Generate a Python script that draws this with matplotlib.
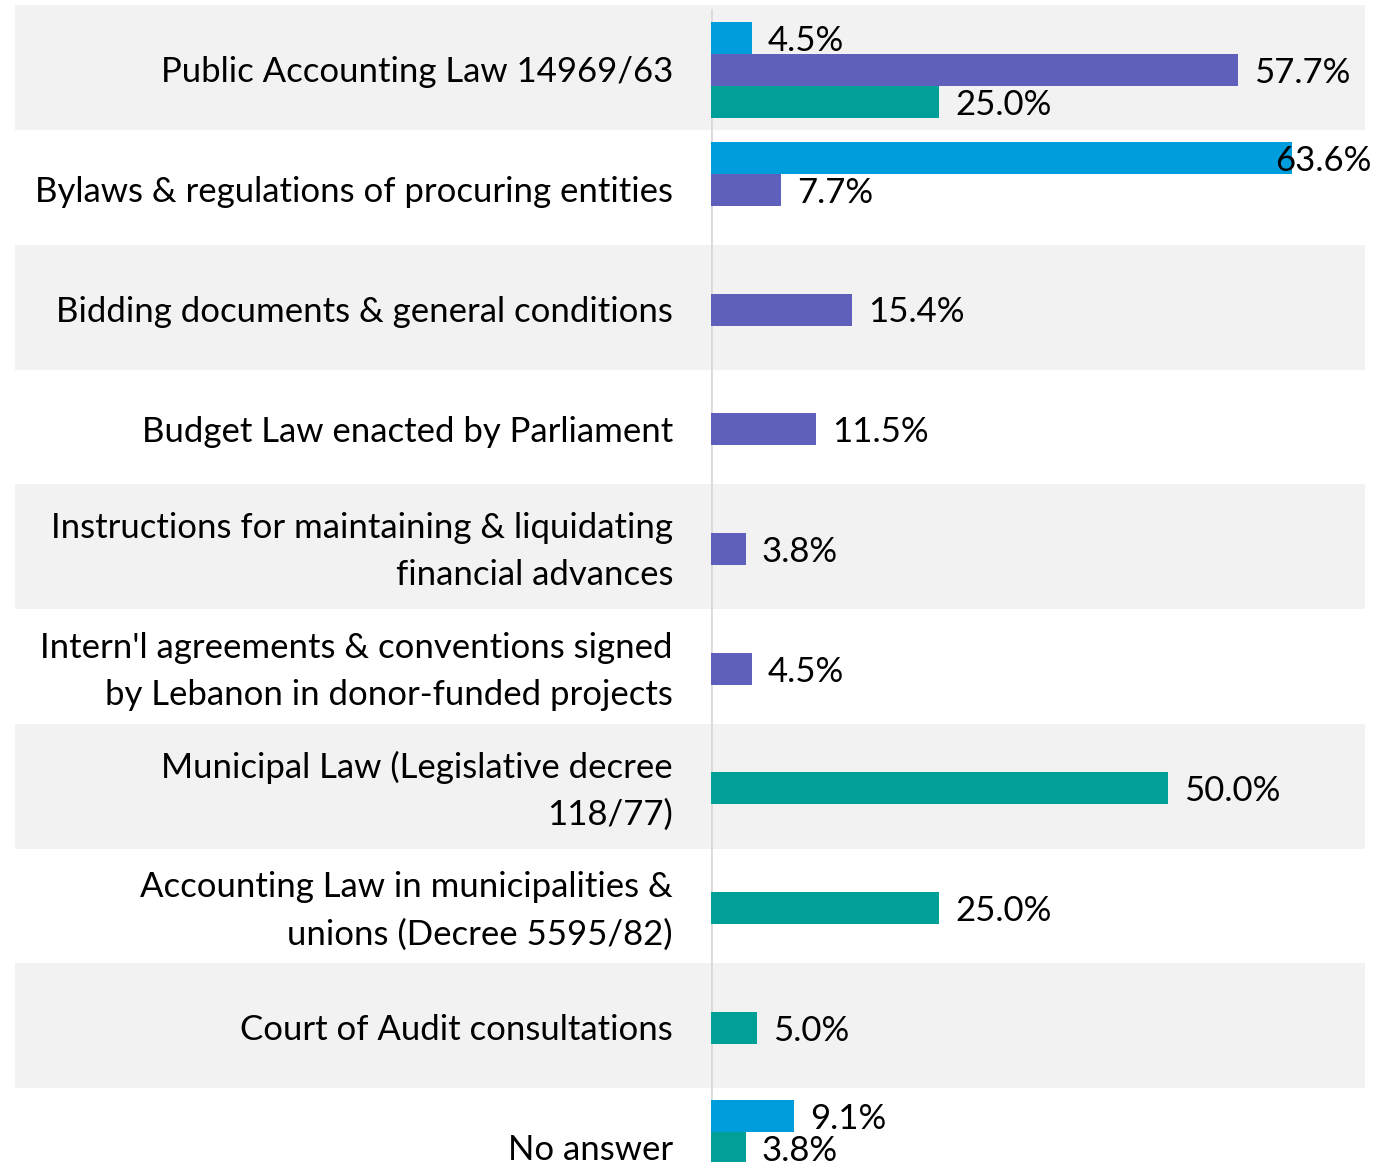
import matplotlib
matplotlib.use('Agg')
import matplotlib.pyplot as plt
from matplotlib.patches import Rectangle
from matplotlib.transforms import blended_transform_factory

plt.rcParams['font.family'] = ['Lato', 'DejaVu Sans']

# categories (top to bottom)
labels = ["Public Accounting Law 14969/63",
          "Bylaws & regulations of procuring entities",
          "Bidding documents & general conditions",
          "Budget Law enacted by Parliament",
          "Instructions for maintaining & liquidating\nfinancial advances",
          "Intern'l agreements & conventions signed\nby Lebanon in donor-funded projects",
          "Municipal Law (Legislative decree\n118/77)",
          "Accounting Law in municipalities &\nunions (Decree 5595/82)",
          "Court of Audit consultations",
          "No answer"]

# percentages, None = no bar
public_inst = [4.5, 63.6, None, None, None, None, None, None, None, 9.1]
central_adm = [57.7, 7.7, 15.4, 11.5, 3.8, 4.5, None, None, None, None]
municipal = [25.0, None, None, None, None, None, 50.0, 25.0, 5.0, 3.8]

series = [public_inst, central_adm, municipal]
colors = ['#009ddc', '#5f60bb', '#00a098']

W, H = 1383, 1162
fig = plt.figure(figsize=(W / 100, H / 100), dpi=100)
x0, x1 = 711, 1365
ax = fig.add_axes([x0 / W, 0, (x1 - x0) / W, 1])
px_per_unit = 9.134
xmax = (x1 - x0) / px_per_unit
row_px = 119.75
ax.set_xlim(0, xmax)
ax.set_ylim((H - 70) / row_px, -70 / row_px)
ax.axis('off')

# alternating background bands, across the whole figure width
trans = blended_transform_factory(fig.transFigure, ax.transData)
band_h = 125 / row_px
for i in range(0, len(labels), 2):
    ax.add_patch(Rectangle((15 / W, i - band_h / 2 - 0.02), (x1 - 15) / W, band_h,
                           transform=trans, facecolor='#f2f2f2', edgecolor='none',
                           clip_on=False, zorder=0))

ax.axvline(0, ymin=0, ymax=1 - 10 / H, color='#d9d9d9', lw=2, zorder=1)

fs = 25
bar_h = 32 / row_px
gap = 16 / px_per_unit
dy = 3 / row_px
for i in range(len(labels)):
    present = [k for k in range(3) if series[k][i] is not None]
    if len(present) == 1:
        offsets = [0]
    else:
        offsets = [-1 + j for j in range(len(present))]
    for k, off in zip(present, offsets):
        v = series[k][i]
        y = i + off * bar_h
        ax.barh(y, v, height=bar_h, color=colors[k], zorder=2)
        txt = '%.1f%%' % v
        # label would run off the right edge -> pull it back inside
        if v + gap + 9.6 > xmax:
            ax.text(xmax + 0.7, y + dy, txt, ha='right', va='center', fontsize=fs, zorder=3)
        else:
            ax.text(v + gap, y + dy, txt, ha='left', va='center', fontsize=fs, zorder=3)
    ax.text(-38 / px_per_unit, i + 0.02, labels[i], ha='right', va='center', fontsize=fs,
            linespacing=1.58, clip_on=False)

fig.savefig('out.png', dpi=100)
